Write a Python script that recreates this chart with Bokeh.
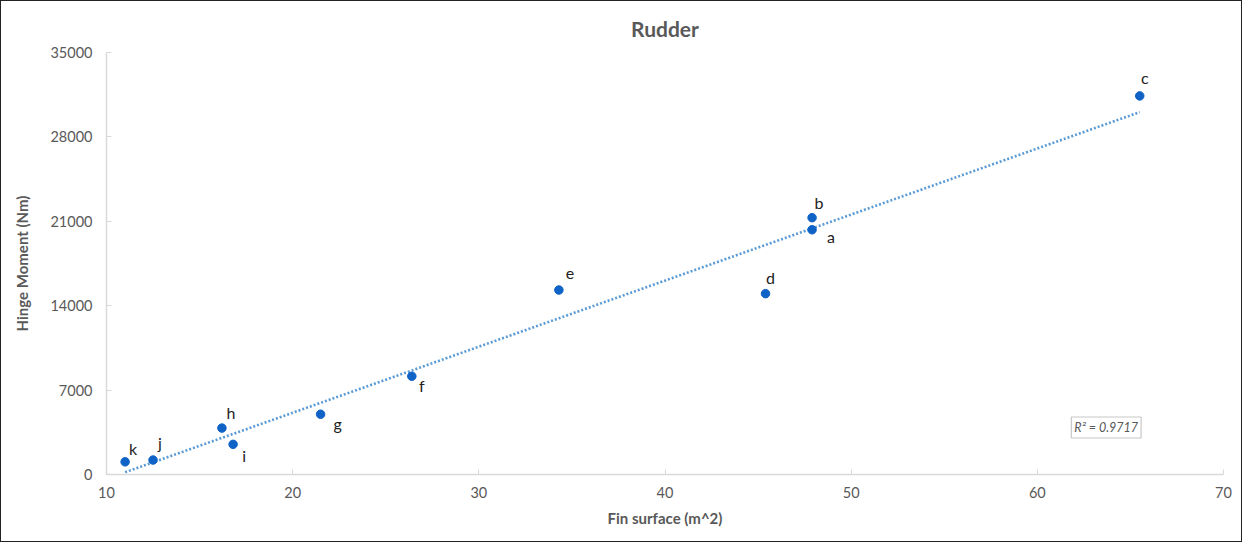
import numpy as np
from bokeh.plotting import figure
from bokeh.models import ColumnDataSource, Label, FixedTicker, Range1d
from bokeh.core.properties import value
from bokeh.embed import file_html
from bokeh.resources import INLINE

# ---- data ----
names = ["a", "b", "c", "d", "e", "f", "g", "h", "i", "j", "k"]
fin_surface = [47.9, 47.9, 65.5, 45.4, 34.3, 26.4, 21.5, 16.2, 16.8, 12.5, 11.0]
hinge_moment = [20300, 21300, 31400, 15000, 15300, 8150, 5000, 3850, 2500, 1200, 1050]
r2_text = "R\u00b2 = 0.9717"
x_ticks = [10, 20, 30, 40, 50, 60, 70]
y_ticks = [0, 7000, 14000, 21000, 28000, 35000]

# label placement (screen px offsets)
lbl_dx = [19, 7, 5, 5, 11, 10, 17, 9, 11, 7, 8]
lbl_dy = [7, -15, -18, -16, -17, 9, 9, -16, 11, -18, -13]

FONT = "Lato"
GRAY = "#595959"

p = figure(width=1242, height=542, output_backend="svg", toolbar_location=None,
           x_range=Range1d(10, 70), y_range=Range1d(0, 35000),
           min_border_left=105, min_border_right=20, min_border_top=49, min_border_bottom=69)
p.styles = {"border": "1.5px solid #222", "box-sizing": "border-box"}

p.title.text = "Rudder"
p.title.align = "center"
p.title.text_font = FONT
p.title.text_font_size = "21px"
p.title.text_color = GRAY
p.title.text_font_style = "bold"
p.title.standoff = 24

p.outline_line_color = None
p.xgrid.visible = False
p.ygrid.visible = False

for ax in (p.xaxis[0], p.yaxis[0]):
    ax.axis_line_color = "#d9d9d9"
    ax.axis_line_width = 1.5
    ax.major_tick_line_color = "#d9d9d9"
    ax.major_tick_in = 5
    ax.major_tick_out = 0
    ax.minor_tick_line_color = None
    ax.major_label_text_font = FONT
    ax.major_label_text_font_size = "14.5px"
    ax.major_label_text_color = GRAY
    ax.axis_label_text_font = FONT
    ax.axis_label_text_font_size = "15px"
    ax.axis_label_text_font_style = "bold"
    ax.axis_label_text_color = GRAY

p.xaxis.ticker = FixedTicker(ticks=x_ticks)
p.yaxis.ticker = FixedTicker(ticks=y_ticks)
p.xaxis.axis_label = "Fin surface (m^2)"
p.yaxis.axis_label = "Hinge Moment (Nm)"
p.xaxis.major_label_standoff = 12
p.yaxis.major_label_standoff = 14
p.xaxis.axis_label_standoff = 8
p.yaxis.axis_label_standoff = 16

# trendline
xs = np.array(fin_surface)
ys = np.array(hinge_moment)
m, b = np.polyfit(xs, ys, 1)
tx = [xs.min(), xs.max()]
p.line(tx, [m * v + b for v in tx], line_color="#5b9bd5", line_width=2.6, line_dash="2 2")

src = ColumnDataSource(dict(x=fin_surface, y=hinge_moment, name=names, dx=lbl_dx, dy=lbl_dy))
p.scatter("x", "y", source=src, size=8.5, fill_color="#0f62c6", line_color="#0f62c6")
p.text("x", "y", text="name", source=src, x_offset="dx", y_offset="dy",
       text_font=value(FONT), text_font_size="16px", text_color="#222222",
       text_align="center", text_baseline="middle")

r2 = Label(x=63.7, y=3900, text=r2_text, text_font=FONT, text_font_size="12.5px",
           text_font_style="italic", text_color=GRAY, text_align="center", text_baseline="middle",
           border_line_color="#c8c8c8", border_line_width=1.2, background_fill_color="white",
           padding=3)
p.add_layout(r2)

open("out.html", "w").write(file_html(p, INLINE))
